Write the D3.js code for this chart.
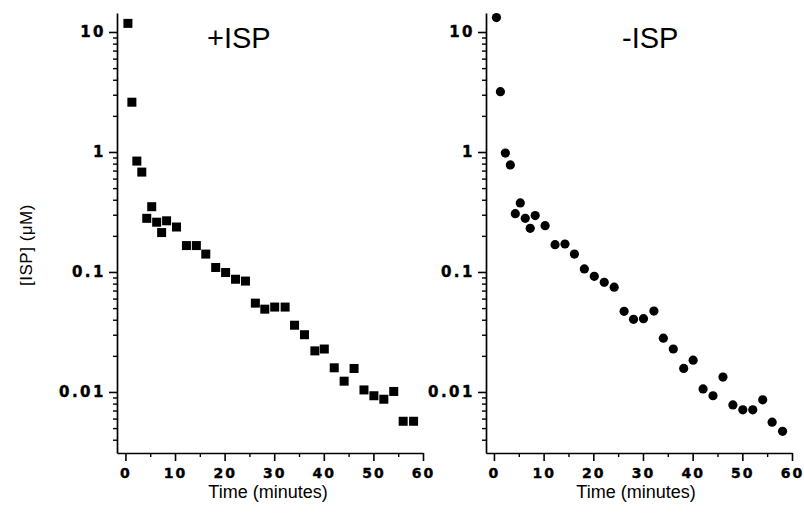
<!DOCTYPE html>
<html>
<head>
<meta charset="utf-8">
<script src="https://cdn.jsdelivr.net/npm/d3@7"></script>
<style>
  body { margin: 0; background: #fff; }
  svg { display: block; }
  .tick-label { font-family: "DejaVu Sans", sans-serif; font-weight: bold; fill: #000; stroke: #000; stroke-width: 0.4px; }
</style>
</head>
<body>
<svg width="804" height="514"></svg>
<script>
// sampling times (minutes), shared by both panels
const times = [0.5, 1.3, 2.3, 3.3, 4.3, 5.3, 6.3, 7.3, 8.3, 10.3, 12.3, 14.3,
  16.2, 18.2, 20.2, 22.2, 24.2, 26.2, 28.1, 30.1, 32.2, 34.1, 36.1, 38.2,
  40.1, 42.1, 44.1, 46.1, 48.1, 50.1, 52.1, 54.1, 56.0, 58.1];

// [ISP] (uM) with ISP
const plusISP = [11.8, 2.6, 0.84, 0.68, 0.28, 0.35, 0.26, 0.213, 0.267, 0.237,
  0.166, 0.166, 0.141, 0.109, 0.099, 0.087, 0.084, 0.055, 0.049, 0.051,
  0.051, 0.036, 0.030, 0.022, 0.0228, 0.0159, 0.0123, 0.0157, 0.0104, 0.0093,
  0.0087, 0.0101, 0.0057, 0.0057];

// [ISP] (uM) without ISP
const minusISP = [13.2, 3.18, 0.98, 0.78, 0.306, 0.376, 0.28, 0.231, 0.295, 0.243,
  0.169, 0.171, 0.141, 0.106, 0.092, 0.082, 0.0747, 0.047, 0.0403, 0.0408,
  0.0472, 0.0281, 0.0228, 0.0157, 0.0184, 0.0106, 0.0093, 0.0133, 0.0078, 0.0071,
  0.0071, 0.0086, 0.0056, 0.0047];

const xMajor = [0, 10, 20, 30, 40, 50, 60];
const xMinor = [5, 15, 25, 35, 45, 55];
const yMajor = [0.01, 0.1, 1, 10];
const yMajorLabels = ['0.01', '0.1', '1', '10'];

const svg = d3.select('svg');

const yDomain = [0.0031, 14.4];
const yMinor = [];
[0.001, 0.01, 0.1, 1, 10].forEach((d) => {
  for (let k = 2; k <= 9; k++) {
    const v = d * k;
    if (v > yDomain[0] && v < yDomain[1]) yMinor.push(v);
  }
});

const panels = [
  { data: plusISP, x0: 117, x1: 423, xmin: -1.7, title: '+ISP', titleX: 207, shape: 'square', xLabelX: 268, yLabel: true },
  { data: minusISP, x0: 486, x1: 792, xmin: -1.6, title: '-ISP', titleX: 622, shape: 'circle', xLabelX: 636, yLabel: false },
];

const plotTop = 13;
const plotBottom = 453;

panels.forEach((p) => {
  const x = d3.scaleLinear().domain([p.xmin, 60]).range([p.x0, p.x1]);
  const y = d3.scaleLog().domain(yDomain).range([plotBottom, plotTop]);
  const g = svg.append('g');

  // y axis, major ticks
  const yAx = g.append('g')
    .attr('transform', `translate(${p.x0},0)`)
    .call(d3.axisLeft(y).tickValues(yMajor).tickSize(8).tickSizeOuter(0)
      .tickFormat((d, i) => yMajorLabels[i]).tickPadding(3));
  yAx.select('.domain').attr('stroke-width', 1.7);
  yAx.selectAll('.tick line').attr('stroke-width', 1.6);
  yAx.selectAll('.tick text')
    .attr('class', 'tick-label')
    .style('font-size', '15px')
    .style('letter-spacing', '2.5px');

  // y minor ticks
  const yMin = g.append('g')
    .attr('transform', `translate(${p.x0},0)`)
    .call(d3.axisLeft(y).tickValues(yMinor).tickSize(4).tickSizeOuter(0).tickFormat(''));
  yMin.select('.domain').remove();
  yMin.selectAll('.tick line').attr('stroke-width', 1.4);

  // x axis, major ticks
  const xAx = g.append('g')
    .attr('transform', `translate(0,${plotBottom})`)
    .call(d3.axisBottom(x).tickValues(xMajor).tickSize(8).tickSizeOuter(0).tickPadding(7));
  xAx.select('.domain').attr('stroke-width', 1.7);
  xAx.selectAll('.tick line').attr('stroke-width', 1.6);
  xAx.selectAll('.tick text')
    .attr('class', 'tick-label')
    .style('font-size', '14px')
    .style('letter-spacing', '2px');

  const xMin = g.append('g')
    .attr('transform', `translate(0,${plotBottom})`)
    .call(d3.axisBottom(x).tickValues(xMinor).tickSize(4).tickSizeOuter(0).tickFormat(''));
  xMin.select('.domain').remove();
  xMin.selectAll('.tick line').attr('stroke-width', 1.4);

  // points
  const pts = p.data.map((v, i) => ({ t: times[i], v }));
  if (p.shape === 'square') {
    g.append('g').selectAll('rect').data(pts).join('rect')
      .attr('x', (d) => x(d.t) - 4.5)
      .attr('y', (d) => y(d.v) - 4.5)
      .attr('width', 9)
      .attr('height', 9)
      .attr('fill', '#000');
  } else {
    g.append('g').selectAll('circle').data(pts).join('circle')
      .attr('cx', (d) => x(d.t))
      .attr('cy', (d) => y(d.v))
      .attr('r', 4.6)
      .attr('fill', '#000');
  }

  // title
  g.append('text')
    .attr('x', p.titleX)
    .attr('y', 48)
    .attr('font-family', 'Liberation Sans Narrow, Liberation Sans, Arial, sans-serif')
    .attr('font-size', 29)
    .text(p.title);

  // x label
  g.append('text')
    .attr('x', p.xLabelX)
    .attr('y', 498)
    .attr('text-anchor', 'middle')
    .attr('font-family', 'Liberation Sans, Arial, sans-serif')
    .attr('font-size', 18)
    .text('Time (minutes)');

  if (p.yLabel) {
    g.append('text')
      .attr('transform', 'translate(32,245) rotate(-90)')
      .attr('text-anchor', 'middle')
      .attr('font-family', 'Liberation Sans, Arial, sans-serif')
      .attr('font-size', 17)
      .style('letter-spacing', '0.5px')
      .text('[ISP] (\u03bcM)');
  }
});
</script>
</body>
</html>
